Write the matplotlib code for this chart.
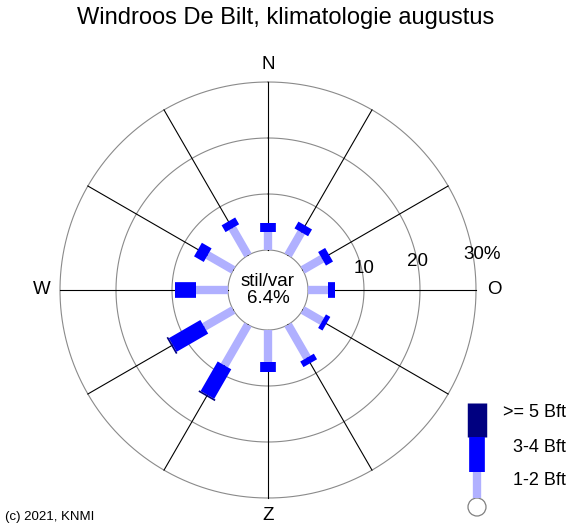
import numpy as np
import matplotlib
matplotlib.use("Agg")
import matplotlib.pyplot as plt

plt.rcParams['font.family'] = ['Liberation Sans', 'DejaVu Sans']

#%% Data (percentages per direction)
directions = [0, 30, 60, 90, 120, 150, 180, 210, 240, 270, 300, 330]
bft_1_2 = [3.3, 4.75, 4.0, 3.6, 4.0, 6.8, 5.65, 8.4, 6.0, 5.8, 5.3, 5.6]
bft_3_4 = [1.6, 1.4, 1.45, 1.25, 0.9, 1.15, 1.8, 6.1, 6.5, 3.65, 2.0, 1.4]
bft_5 = [0.0, 0.0, 0.0, 0.0, 0.0, 0.0, 0.0, 0.3, 0.3, 0.1, 0.0, 0.0]
calm = 6.4
rings = [10, 20, 30]
compass = {"N": 0, "O": 90, "Z": 180, "W": 270}
legend_labels = [">= 5 Bft", "3-4 Bft", "1-2 Bft"]

c_light = "#b0b0ff"
c_blue = "#0000ff"
c_navy = "#000080"
lw_light, lw_blue, lw_navy = 6.0, 11.3, 13.5

#%% Figure
fig = plt.figure(figsize=(5.71, 5.29), dpi=100)
W, H = 571, 529
cx, cy, R = 268, 290, 208
ax = fig.add_axes([(cx - R) / W, (H - cy - R) / H, 2 * R / W, 2 * R / H], projection="polar")
ax.set_theta_zero_location("N")
ax.set_theta_direction(-1)
ax.set_rorigin(-40 / 5.6)
ax.set_rlim(0, 30)
ax.axis("off")

theta_full = np.linspace(0, 2 * np.pi, 400)
for r in [0] + rings:
    ax.plot(theta_full, np.full_like(theta_full, r), color="#8a8a8a", lw=0.8, zorder=1, clip_on=False)
for d in directions:
    t = np.deg2rad(d)
    ax.plot([t, t], [0, 30], color="black", lw=0.8, zorder=1, clip_on=False)

for d, a, b, c in zip(directions, bft_1_2, bft_3_4, bft_5):
    t = np.deg2rad(d)
    ax.plot([t, t], [0, a], color=c_light, lw=lw_light, solid_capstyle="butt", zorder=2)
    if b > 0:
        ax.plot([t, t], [a, a + b], color=c_blue, lw=lw_blue, solid_capstyle="butt", zorder=3)
    if c > 0:
        ax.plot([t, t], [a + b, a + b + c], color=c_navy, lw=lw_navy, solid_capstyle="butt", zorder=4)

ax.text(0, -40 / 5.6, "stil/var\n%s%%" % calm, ha="center", va="center",
        fontsize=13.5, linespacing=0.95)

for lab, ang in compass.items():
    ax.text(np.deg2rad(ang), 33.2, lab, ha="center", va="center", fontsize=13.5, clip_on=False)

# ring labels, just above the east axis
ring_pos = [(77.4, 10.4), (79.4, 20.1), (80.5, 31.6)]
for r, (ang, rr) in zip(rings, ring_pos):
    lab = str(r) + ("%" if r == rings[-1] else "")
    ax.text(np.deg2rad(ang), rr, lab, ha="center", va="center", fontsize=13.5, clip_on=False)

fig.text(0.5, 1 - 18 / H, "Windroos De Bilt, klimatologie augustus", ha="center", va="center", fontsize=17)
fig.text(5 / W, 1 - 517 / H, "(c) 2021, KNMI", ha="left", va="center", fontsize=9.5)

#%% Legend
lax = fig.add_axes([455 / W, 0, 116 / W, 130 / H])
lax.set_xlim(455, 571)
lax.set_ylim(529, 399)
lax.axis("off")
lx = 477
lax.plot([lx, lx], [403, 437], color=c_navy, lw=lw_navy + 0.5, solid_capstyle="butt")
lax.plot([lx, lx], [437, 472], color=c_blue, lw=lw_blue, solid_capstyle="butt")
lax.plot([lx, lx], [472, 498], color=c_light, lw=lw_light, solid_capstyle="butt")
lax.add_patch(plt.Circle((lx, 507), 9, facecolor="white", edgecolor="#808080", lw=0.9))
for lab, yy in zip(legend_labels, [413, 448, 481]):
    lax.text(566, yy, lab, ha="right", va="center", fontsize=13)

fig.savefig("out.png", dpi=100)
